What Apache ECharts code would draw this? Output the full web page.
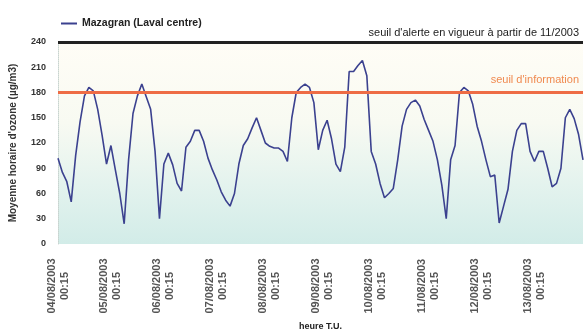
<!DOCTYPE html>
<html>
<head>
<meta charset="utf-8">
<script src="https://cdn.jsdelivr.net/npm/echarts@6/dist/echarts.min.js"></script>
<style>
  html, body { margin: 0; padding: 0; background: #fff; }
  #chart { width: 584px; height: 336px; }
</style>
</head>
<body>
<div id="chart"></div>
<script>
// days shown on the x axis, readings every 2 hours starting at 00:15
var days = ['04/08/2003', '05/08/2003', '06/08/2003', '07/08/2003', '08/08/2003',
  '09/08/2003', '10/08/2003', '11/08/2003', '12/08/2003', '13/08/2003'];
var hours = ['00:15', '02:15', '04:15', '06:15', '08:15', '10:15',
  '12:15', '14:15', '16:15', '18:15', '20:15', '22:15'];

// ozone hourly mean, µg/m3 (one value per 2 h)
var ozone = [
  102, 85, 74, 50, 105, 145, 176, 186, 182, 160, 129, 95,
  117, 88, 60, 24, 100, 155, 176, 190, 175, 160, 110, 30,
  95, 108, 94, 72, 63, 115, 122, 135, 135, 122, 102, 88,
  76, 62, 52, 45, 60, 95, 117, 125, 138, 150, 135, 120,
  116, 114, 114, 110, 98, 150, 180, 186, 190, 186, 168, 112,
  135, 147, 125, 95, 86, 115, 205, 205, 212, 218, 200, 110,
  95, 72, 55, 60, 66, 100, 140, 160, 168, 171, 164, 148,
  135, 122, 100, 70, 30, 100, 117, 180, 186, 182, 166, 140,
  122, 100, 80, 82, 25, 45, 65, 110, 135, 143, 143, 110,
  98, 110, 110, 90, 68, 72, 90, 150, 160, 149, 130, 100
];

var seuilInformation = 180;
var seuilAlerte = 240;
var yTicks = [0, 240, 30];

var categories = [];
days.forEach(function (d) {
  hours.forEach(function (h) {
    categories.push(d + ' ' + h);
  });
});

var myChart = echarts.init(document.getElementById('chart'));

var option = {
  animation: false,
  textStyle: { fontFamily: 'Liberation Sans, Arial, sans-serif' },
  legend: {
    left: 56,
    top: 13,
    itemWidth: 16,
    itemHeight: 2,
    icon: 'rect',
    textStyle: { fontSize: 10.5, fontWeight: 'bold', color: '#222' },
    data: ['Mazagran (Laval centre)']
  },
  grid: {
    left: 58,
    right: 1,
    top: 42,
    bottom: 89,
    show: true,
    borderWidth: 0,
    backgroundColor: new echarts.graphic.LinearGradient(0, 0, 0, 1, [
      { offset: 0, color: '#fffdf6' },
      { offset: 0.4, color: '#f8faf2' },
      { offset: 0.7, color: '#e4f3ee' },
      { offset: 1, color: '#d2ece8' }
    ])
  },
  xAxis: {
    type: 'category',
    data: categories,
    boundaryGap: false,
    name: 'heure T.U.',
    nameLocation: 'middle',
    nameGap: 78,
    nameTextStyle: { fontSize: 9, fontWeight: 'bold', color: '#222' },
    axisLine: { show: false },
    axisTick: { show: false },
    axisLabel: {
      interval: 11,
      rotate: 90,
      align: 'center',
      verticalAlign: 'middle',
      margin: 42,
      fontSize: 11,
      lineHeight: 13,
      fontWeight: 'bold',
      color: '#555',
      formatter: function (value) {
        return value.replace(' ', '\n');
      }
    },
    splitLine: { show: false }
  },
  yAxis: {
    type: 'value',
    min: yTicks[0],
    max: yTicks[1],
    interval: yTicks[2],
    name: "Moyenne horaire d'ozone (µg/m3)",
    nameLocation: 'middle',
    nameGap: 40,
    nameTextStyle: { fontSize: 10, fontWeight: 'bold', color: '#333' },
    axisLine: { show: true, lineStyle: { color: '#c8d4d0', type: 'dotted' } },
    axisTick: { show: false },
    axisLabel: { fontSize: 9, fontWeight: 'bold', color: '#333', margin: 12 },
    splitLine: { show: false }
  },
  series: [
    {
      name: 'Mazagran (Laval centre)',
      type: 'line',
      data: ozone,
      showSymbol: false,
      lineStyle: { color: '#3b418f', width: 1.6 },
      itemStyle: { color: '#3b418f' },
      markLine: {
        silent: true,
        symbol: 'none',
        data: [
          {
            yAxis: seuilAlerte,
            lineStyle: { color: '#222', width: 3, type: 'solid' },
            label: {
              show: true,
              position: 'insideEndTop',
              formatter: "seuil d'alerte en vigueur à partir de 11/2003",
              fontSize: 11,
              color: '#222',
              distance: [4, 4]
            }
          },
          {
            yAxis: seuilInformation,
            lineStyle: { color: '#ee6c45', width: 3, type: 'solid' },
            label: {
              show: true,
              position: 'insideEndTop',
              formatter: "seuil d'information",
              fontSize: 11,
              color: '#f08a50',
              distance: [4, 7]
            }
          }
        ]
      }
    }
  ]
};

myChart.setOption(option);
</script>
</body>
</html>
